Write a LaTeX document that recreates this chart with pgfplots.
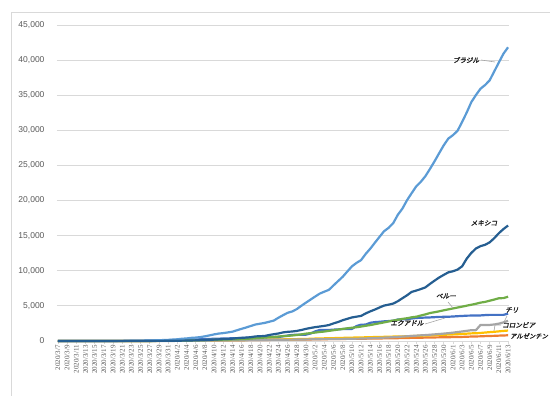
\documentclass[border=0pt]{standalone}
\usepackage{fontspec}
\setmainfont{Liberation Sans}
\newfontfamily\dateserif{Liberation Serif}
\newfontfamily\jp{Noto Sans CJK JP}[FakeBold=2.5,FakeSlant=0.2]
\usepackage{pgfplots}
\usepackage{pgfplotstable}
\pgfplotsset{compat=1.18}

\definecolor{bra}{HTML}{5B9BD5}
\definecolor{mex}{HTML}{255E91}
\definecolor{per}{HTML}{70AD47}
\definecolor{ecu}{HTML}{4472C4}
\definecolor{chl}{HTML}{A5A5A5}
\definecolor{col}{HTML}{FFC000}
\definecolor{arg}{HTML}{ED7D31}
\definecolor{gridgray}{HTML}{D9D9D9}
\definecolor{ticktext}{HTML}{595959}
\definecolor{labeltext}{HTML}{262626}
\definecolor{leadergray}{HTML}{A6A6A6}

% cumulative deaths, day 0 = 2020/3/7
\pgfplotstableread{
d bra mex per ecu chl col arg
0 0 0 0 0 0 0 1
1 0 0 0 0 0 0 1
2 0 0 0 0 0 0 1
3 0 0 0 0 0 0 1
4 0 0 0 0 0 0 1
5 0 0 0 0 0 0 1
6 0 0 0 0 0 0 2
7 0 0 0 2 0 0 2
8 0 0 0 2 0 0 2
9 0 0 0 2 0 0 2
10 0 0 0 3 0 0 2
11 1 0 0 5 0 0 2
12 4 1 0 7 0 0 3
13 6 1 2 14 0 0 3
14 11 2 3 18 0 0 4
15 15 2 5 27 1 2 4
16 25 2 5 28 1 3 4
17 34 4 7 34 1 3 6
18 46 5 9 48 2 4 8
19 59 6 9 58 3 6 9
20 77 8 11 60 4 10 13
21 92 12 16 75 5 12 18
22 111 16 18 93 6 14 19
23 136 20 24 98 8 16 23
24 159 28 30 120 9 17 27
25 201 29 30 145 12 19 28
26 240 37 38 172 16 25 36
27 324 50 55 180 18 32 39
28 359 60 61 191 22 35 43
29 445 79 83 191 27 46 44
30 486 94 92 220 34 50 48
31 553 125 107 242 37 54 56
32 667 141 121 272 43 55 63
33 800 174 138 297 48 69 72
34 941 194 169 315 57 80 82
35 1056 233 181 333 65 100 83
36 1124 273 193 355 73 109 90
37 1223 296 216 369 82 112 97
38 1328 332 230 388 92 127 102
39 1532 406 254 403 94 131 109
40 1736 449 274 421 105 144 115
41 1924 486 300 456 116 153 123
42 2141 546 348 474 126 166 129
43 2347 650 400 507 133 179 132
44 2462 686 445 520 139 189 136
45 2575 712 484 537 147 196 147
46 2741 857 530 560 160 206 152
47 2906 970 572 576 168 215 165
48 3313 1069 634 576 174 225 176
49 3670 1221 700 663 181 233 185
50 4016 1305 728 780 189 244 192
51 4205 1351 782 871 198 253 197
52 4543 1434 854 883 207 269 207
53 5017 1569 943 900 216 278 214
54 5466 1732 1051 900 227 293 218
55 5901 1859 1124 1063 234 314 225
56 6329 1972 1200 1371 247 345 237
57 6750 2061 1286 1564 260 358 246
58 7025 2154 1344 1569 270 378 260
59 7288 2271 1444 1569 275 393 264
60 7921 2507 1533 1618 285 407 273
61 8536 2704 1627 1654 294 428 282
62 9146 2961 1714 1704 304 445 293
63 9897 3160 1814 1717 312 463 300
64 10627 3353 1889 1717 323 479 305
65 11123 3465 1961 2127 335 493 314
66 11519 3573 2057 2327 346 509 319
67 12400 3926 2169 2338 368 525 329
68 13149 4220 2267 2594 394 546 353
69 13993 4477 2392 2688 421 562 356
70 14817 4767 2523 2736 450 574 363
71 15633 5045 2648 2799 478 592 373
72 16118 5177 2789 2839 509 613 382
73 16792 5332 2914 2888 544 628 393
74 17971 5666 3024 3056 589 640 403
75 18859 6090 3148 3096 630 652 416
76 20047 6510 3244 3108 673 676 433
77 21048 6989 3373 3203 718 705 445
78 22013 7179 3456 3275 761 727 452
79 22666 7394 3629 3313 806 750 467
80 23473 7633 3788 3334 841 776 484
81 24512 8134 3983 3358 890 803 500
82 25598 8597 4099 3394 944 829 508
83 26754 9044 4230 3438 997 859 520
84 27878 9415 4371 3439 1054 890 528
85 28834 9779 4506 3456 1113 911 539
86 29314 9930 4634 3486 1188 939 556
87 29937 10167 4767 3534 1275 967 569
88 31199 10637 4894 3563 1356 1009 583
89 32548 11729 5031 3608 1448 1045 608
90 34021 12545 5162 3621 1541 1087 632
91 35026 13170 5301 3642 1541 1099 648
92 35930 13511 5465 3642 2290 1145 664
93 36455 13699 5571 3690 2290 1204 693
94 37134 14053 5738 3720 2290 1262 717
95 38406 14649 5903 3720 2355 1312 735
96 39680 15357 6088 3720 2475 1372 765
97 40919 15944 6109 3720 2648 1433 785
98 41828 16448 6308 3900 2870 1488 815
}\deaths

\begin{document}
\begin{tikzpicture}
\begin{axis}[
  scale only axis, width=452pt, height=316pt,
  xmin=-0.2, xmax=98.2, ymin=0, ymax=45000,
  axis line style={draw=none},
  ymajorgrids, major grid style={gridgray, line width=0.8pt},
  ytick={0,5000,...,45000},
  ytick style={draw=none},
  scaled y ticks=false,
  yticklabel style={font=\fontsize{8.5}{8.5}\selectfont, text=ticktext, xshift=-9pt},
  /pgf/number format/.cd, 1000 sep={,}, assume math mode=true, /pgfplots/.cd,
  xtick={0,2,...,98},
  xtick pos=bottom, xtick align=outside,
  major tick length=3pt,
  xtick style={gridgray, line width=0.6pt},
  xticklabels={2020/3/7,2020/3/9,2020/3/11,2020/3/13,2020/3/15,2020/3/17,2020/3/19,2020/3/21,2020/3/23,2020/3/25,2020/3/27,2020/3/29,2020/3/31,
    2020/4/2,2020/4/4,2020/4/6,2020/4/8,2020/4/10,2020/4/12,2020/4/14,2020/4/16,2020/4/18,2020/4/20,2020/4/22,2020/4/24,2020/4/26,2020/4/28,2020/4/30,
    2020/5/2,2020/5/4,2020/5/6,2020/5/8,2020/5/10,2020/5/12,2020/5/14,2020/5/16,2020/5/18,2020/5/20,2020/5/22,2020/5/24,2020/5/26,2020/5/28,2020/5/30,
    2020/6/1,2020/6/3,2020/6/5,2020/6/7,2020/6/9,2020/6/11,2020/6/13},
  xticklabel style={rotate=90, anchor=east, font=\dateserif\fontsize{7}{7}\selectfont, text=ticktext, inner sep=1pt},
  clip=false,
]
\addplot[line width=2.2pt, line join=round, no markers, arg] table[x=d, y=arg] {\deaths};
\addplot[line width=2.2pt, line join=round, no markers, col] table[x=d, y=col] {\deaths};
\addplot[line width=2.2pt, line join=round, no markers, chl] table[x=d, y=chl] {\deaths};
\addplot[line width=2.2pt, line join=round, no markers, ecu] table[x=d, y=ecu] {\deaths};
\addplot[line width=2.2pt, line join=round, no markers, per] table[x=d, y=per] {\deaths};
\addplot[line width=2.2pt, line join=round, no markers, bra] table[x=d, y=bra] {\deaths};
\addplot[line width=2.2pt, line join=round, no markers, mex] table[x=d, y=mex] {\deaths};
\end{axis}

% overlay in page units: origin shifted to the page's lower-left corner
\begin{scope}[x=1pt, y=1pt, shift={(-57pt,-55pt)},
  jplabel/.style={font=\jp\fontsize{6.6}{6.6}\selectfont, text=labeltext, inner sep=0pt},
  leader/.style={draw=leadergray, line width=0.6pt}]
\draw[gridgray, line width=0.8pt] (11,-2) -- (11,384) -- (552,384);
\node[jplabel] at (466,336) {ブラジル};
\draw[leader] (481,336) -- (495,334);
\node[jplabel] at (484,173) {メキシコ};
\node[jplabel] at (446,100) {ペルー};
\draw[leader] (448,94) -- (453,88);
\node[jplabel] at (407,73) {エクアドル};
\draw[leader] (425,72) -- (445,78);
\node[jplabel] at (512,86) {チリ};
\draw[leader] (507,80) -- (504,74);
\node[jplabel, anchor=west] at (502,71) {コロンビア};
\draw[leader] (501,71) -- (495,71) -- (494,65);
\node[jplabel, anchor=west, font=\jp\fontsize{6.3}{6.3}\selectfont] at (510,60) {アルゼンチン};
\pgfresetboundingbox
\path[use as bounding box] (0,0) rectangle (550,396);
\end{scope}
\end{tikzpicture}
\end{document}
